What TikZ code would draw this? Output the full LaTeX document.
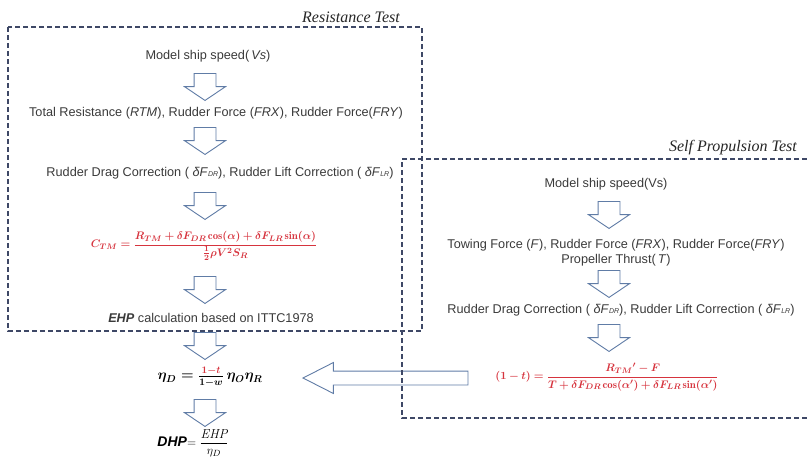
\documentclass[tikz,border=0pt]{standalone}
\usepackage{amsmath, amssymb, bm}
\usepackage{fontspec}
\setsansfont{Liberation Sans}
\newfontfamily\titlefont{Liberation Serif}
\usetikzlibrary{shapes.arrows, calc}
\definecolor{boxline}{RGB}{62,72,102}
\definecolor{arrowline}{RGB}{96,124,166}
\definecolor{txtgray}{RGB}{58,58,58}
\definecolor{formred}{RGB}{214,52,62}
\newcommand{\subsc}[1]{{\scriptsize\textit{#1}}}
\newcommand{\tightmath}{\medmuskip=3.5mu plus 1mu\thickmuskip=4.5mu plus 1mu\thinmuskip=2mu}
\tikzset{
  testbox/.style   = {draw=boxline, line width=1.5pt, dash pattern=on 5pt off 3pt},
  testtitle/.style = {font=\titlefont\itshape\fontsize{16}{18}\selectfont,
                      anchor=base east, text=black!85, inner sep=0pt},
  flowtext/.style  = {font=\sffamily\fontsize{12.7}{14.5}\selectfont, text=txtgray,
                      align=center, inner sep=1pt},
  formula/.style   = {text=formred, font=\fontsize{10.8}{13}\selectfont\boldmath\tightmath,
                      inner sep=1pt},
  downblock/.style = {single arrow, draw=arrowline, fill=white, line width=0.9pt,
                      rotate=-90, anchor=tip, minimum height=27pt, inner xsep=0pt,
                      inner ysep=10.5pt, single arrow head extend=9.5pt,
                      single arrow tip angle=112},
  leftblock/.style = {single arrow, draw=arrowline, fill=white, line width=0.9pt,
                      rotate=180, anchor=tip, minimum height=165pt, inner xsep=0pt,
                      inner ysep=6.5pt, single arrow head extend=8.5pt,
                      single arrow tip angle=54},
}

\begin{document}
\begin{tikzpicture}[x=1pt, y=-1pt]
  \useasboundingbox (0,0) rectangle (807,459);

  % arrow from self propulsion test to eta_D
  \node[leftblock] (toeta) at (302,378) {};

  % dashed frames
  \draw[testbox] (8,27) rectangle (422,331);
  \draw[testbox] (807,159) -- (402,159) -- (402,418) -- (807,418);
  \node[testtitle] (restitle) at (400,22) {Resistance Test};
  \node[testtitle] (sptitle) at (797,151) {Self Propulsion Test};

  % resistance test
  \node[flowtext] (lms) at (208,56) {Model ship speed(\,\textit{Vs})};
  \node[flowtext] (lres) at (216,113) {Total Resistance (\textit{RTM}), Rudder Force (\textit{FRX}), Rudder Force(\textit{FRY})};
  \node[flowtext] (lcorr) at (220,173) {Rudder Drag Correction ( \textit{δF}\subsc{DR}), Rudder Lift Correction ( \textit{δF}\subsc{LR})};
  \node[formula] (lctm) at (204,246)
    {$C_{TM}=\dfrac{R_{TM}+\delta F_{DR}\cos(\alpha)+\delta F_{LR}\sin(\alpha)}{\frac{1}{2}\rho V^{2}S_{R}}$};
  \node[flowtext] (lehp) at (211,318) {\textbf{\textit{EHP}} calculation based on ITTC1978};

  % below the frame
  \node[formula, text=black, font=\fontsize{14.5}{16}\selectfont\boldmath] (etad) at (210,377)
    {${\Large\bm{\eta_D}}=\frac{\color{formred}1-t}{1-w}\,\eta_O\eta_R$};
  \node[formula, text=black, font=\fontsize{13}{15}\selectfont] (dhp) at (193,443)
    {\textsf{\fontsize{14}{16}\selectfont\textbf{\textit{DHP}}}$=\dfrac{\mathit{EHP}}{\eta_D}$};

  % self propulsion test
  \node[flowtext] (rms) at (606,184) {Model ship speed(Vs)};
  \node[flowtext] (rforce) at (616,252.5) {Towing Force (\textit{F}), Rudder Force (\textit{FRX}), Rudder Force(\textit{FRY})\\Propeller Thrust(\,\textit{T})};
  \node[flowtext] (rcorr) at (621,310) {Rudder Drag Correction ( \textit{δF}\subsc{DR}), Rudder Lift Correction ( \textit{δF}\subsc{LR})};
  \node[formula] (rthr) at (607,377)
    {$(1-t)=\dfrac{R_{TM}{}'-F}{T+\delta F_{DR}\cos(\alpha')+\delta F_{LR}\sin(\alpha')}$};

  % hollow flow arrows (tips)
  \foreach \y [count=\i] in {101,155,220,304,360,427}
    \node[downblock] (ldown\i) at (205,\y) {};
  \foreach \y [count=\i] in {229,298,352}
    \node[downblock] (rdown\i) at (609,\y) {};
\end{tikzpicture}
\end{document}
